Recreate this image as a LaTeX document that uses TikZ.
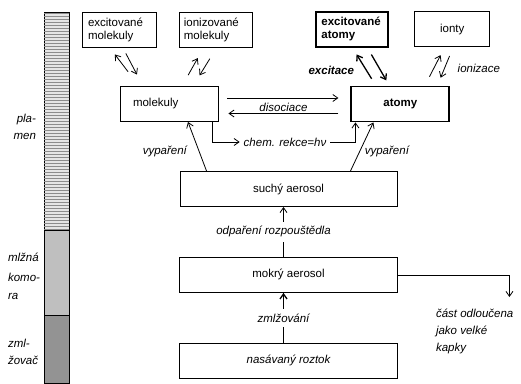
\documentclass[tikz,border=0pt]{standalone}
\usepackage{fontspec}
\setmainfont{Liberation Sans}
\usetikzlibrary{positioning, arrows.meta, calc, patterns}

\begin{document}
\fontsize{11.5}{13}\selectfont
\begin{tikzpicture}[
    x=1pt, y=-1pt,
    block/.style={rectangle, draw, line width=0.9pt, minimum height=35pt, inner sep=4pt},
    thickblock/.style={block, line width=1.8pt, font=\bfseries},
    line/.style={draw, -{Straight Barb[length=5pt, width=7pt]}, line width=0.8pt},
    thickline/.style={line, line width=1.3pt},
    lbl/.style={font=\itshape}
]
    \useasboundingbox (0,0) rectangle (521,383);

    %% SIDE BAR
    \draw [fill=gray!20, postaction={pattern=horizontal lines, pattern color=gray!90}] (44,12) rectangle (69,230);
    \draw [fill=gray!50] (44,230) rectangle (69,315);
    \draw [fill=gray!85] (44,315) rectangle (69,383);
    \node [lbl, align=right, anchor=east] (plamen) at (40,126.5) {pla-\\[4pt]men};
    \node [lbl, align=left, anchor=west] (komora) at (4,276) {mlžná\\[7pt]komo-\\[5pt]ra};
    \node [lbl, align=left, anchor=west] (zmlzovac) at (4,351.5) {zml-\\[4pt]žovač};

    %% FLAME
    \node [block, text width=72pt, inner xsep=13pt, align=left] (molekuly) at (169,104) {molekuly};
    \node [thickblock, minimum width=98pt, right=132pt of molekuly] (atomy) {atomy};
    \node [block, text width=62pt, inner xsep=6pt, align=left, above=38pt of molekuly, xshift=-50pt] (exmol) {excitované\\molekuly};
    \node [block, text width=65pt, inner xsep=4pt, align=left, right=23pt of exmol] (ionmol) {ionizované\\molekuly};
    \node [thickblock, text width=62pt, inner xsep=5pt, align=left, above=38pt of atomy, xshift=-48pt] (exat) {excitované\\atomy};
    \node [block, minimum width=75pt, right=25pt of exat] (ionty) {ionty};
    \node [lbl] (chem) at (285,142) {chem. rekce=hν};

    %% AEROSOL
    \node [block, minimum width=217pt] (suchy) at (288.5,189) {suchý aerosol};
    \node [block, minimum width=218pt, below=50pt of suchy] (mokry) {mokrý aerosol};
    \node [block, minimum width=218pt, below=50pt of mokry, font=\itshape] (roztok) {nasávaný roztok};
    \node [lbl, align=left, anchor=north west] (kapky) at (432,305) {část odloučena\\[4pt]jako velké\\[4pt]kapky};

    % Excitation / ionization
    \draw [line, shorten <=18pt, shorten >=8pt] ([xshift=-30pt]molekuly.north) -- ([xshift=-9pt]exmol.south);
    \draw [line, shorten <=6pt, shorten >=13pt] ([xshift=4pt]exmol.south) -- ([xshift=-26pt]molekuly.north);
    \draw [line, shorten <=12.5pt, shorten >=11.5pt] ([xshift=13pt]molekuly.north) -- ([xshift=-13pt]ionmol.south);
    \draw [line, shorten <=12.5pt, shorten >=12.5pt] (ionmol.south) -- ([xshift=24pt]molekuly.north);
    \draw [thickline, shorten <=8pt, shorten >=8pt] ([xshift=-24.5pt]atomy.north) -- (exat.south)
        node [pos=0.4, left=8pt, font=\bfseries\itshape] {excitace};
    \draw [thickline, shorten <=8pt, shorten >=6pt] ([xshift=15pt]exat.south) -- ([xshift=-11pt]atomy.north);
    \draw [line, shorten <=10pt, shorten >=9pt] ([xshift=24.5pt]atomy.north) -- ([xshift=-7.5pt]ionty.south);
    \draw [line, shorten <=9.5pt, shorten >=8.5pt] ([xshift=1pt]ionty.south) -- ([xshift=37pt]atomy.north)
        node [pos=0.55, right=9pt, lbl] {ionizace};

    % Dissociation
    \draw [line] ([xshift=9pt, yshift=6pt]molekuly.east) -- ([xshift=-12pt, yshift=6pt]atomy.west);
    \draw [line] ([xshift=-12pt, yshift=-9.5pt]atomy.west) -- ([xshift=10pt, yshift=-9.5pt]molekuly.east)
        node [midway, above, inner sep=1.5pt, lbl] {disociace};
    \draw [line] ([xshift=-6pt]molekuly.south east) |- (chem.west);
    \draw [line] (chem.east) -| ([xshift=5pt]atomy.south west);

    % Evaporation
    \draw [line] ([xshift=27pt]suchy.north west) -- ([xshift=19pt]molekuly.south)
        node [pos=0.4, left=8pt, lbl] {vypaření};
    \draw [line] ([xshift=-47pt]suchy.north east) -- ([xshift=-27pt]atomy.south)
        node [pos=0.4, right=1pt, lbl] {vypaření};
    \draw [line] ([xshift=-5pt]mokry.north) -- ([xshift=-5pt]suchy.south)
        node [midway, fill=white, inner ysep=5pt, xshift=-10pt, lbl] {odpaření rozpouštědla};
    \draw [thickline] ([xshift=-5pt]roztok.north) -- ([xshift=-5pt]mokry.south)
        node [midway, fill=white, inner ysep=5pt, lbl] {zmlžování};
    \draw [line] (mokry.east) -| ([xshift=-8pt, yshift=8pt]kapky.north east);

\end{tikzpicture}
\end{document}
